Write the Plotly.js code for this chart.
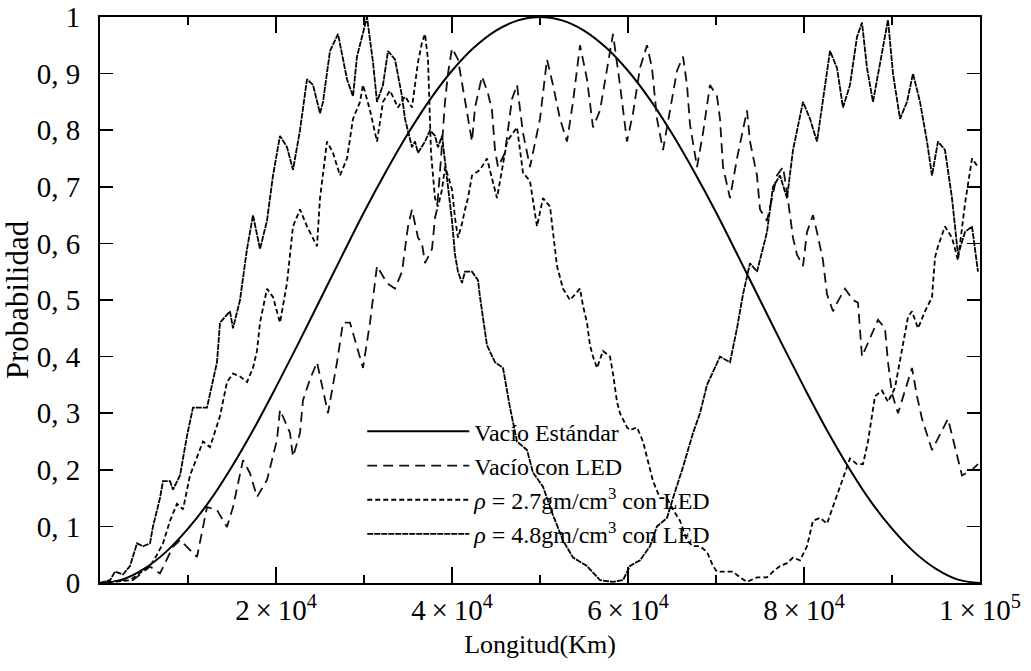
<!DOCTYPE html>
<html>
<head>
<meta charset="utf-8">
<script src="https://cdn.plot.ly/plotly-3.0.1.min.js"></script>
<style>html,body{margin:0;padding:0;background:#fff;}#chart{width:1031px;height:671px;}</style>
</head>
<body>
<div id="chart"></div>
<script>
// Longitud (km) and probabilities
const xStd = [0,2500,5000,7500,10000,12500,15000,17500,20000,22500,25000,27500,30000,32500,35000,37500,40000,42500,45000,47500,50000,52500,55000,57500,60000,62500,65000,67500,70000,72500,75000,77500,80000,82500,85000,87500,90000,92500,95000,97500,100000];
const yStd = [0,0.006,0.025,0.055,0.096,0.146,0.206,0.273,0.346,0.422,0.5,0.578,0.655,0.727,0.794,0.854,0.905,0.946,0.976,0.994,1,0.994,0.976,0.946,0.905,0.854,0.794,0.727,0.655,0.578,0.5,0.422,0.346,0.273,0.206,0.146,0.096,0.055,0.025,0.006,0];

const xLED = [0,2614,3750,5682,6818,8295,9091,9886,11023,12159,13295,14432,15114,16250,17045,17841,18977,20114,20455,21591,21932,22727,23068,23864,24659,25909,26932,27614,28409,29886,30682,31477,32614,33523,34318,35000,35455,36136,36591,36932,37273,37727,38068,38295,38750,39205,39545,40000,40682,41477,41818,42273,42614,43409,44091,44545,44886,45227,46023,46818,47386,48068,48864,50000,50795,51477,52273,53068,53750,54545,55341,56023,56818,57614,58295,59091,59886,60568,61364,62159,62727,63295,63977,64773,65568,66250,66705,67045,67386,67841,68523,69318,70114,70455,70795,71591,72386,73523,73864,74659,75000,75795,76932,77614,78068,78409,78750,79205,79886,80341,81023,81477,82159,82614,83295,83750,84659,85568,86136,86591,87273,88409,89205,89545,90000,90682,91477,92273,92841,93409,94545,95682,96364,97159,97955,99091,99773];
const yLED = [0,0.005,0.005,0.029,0.017,0.064,0.076,0.064,0.046,0.134,0.129,0.099,0.134,0.217,0.194,0.152,0.182,0.253,0.306,0.265,0.223,0.265,0.323,0.36,0.39,0.30,0.39,0.46,0.46,0.38,0.46,0.56,0.53,0.52,0.55,0.63,0.66,0.61,0.60,0.565,0.575,0.59,0.645,0.66,0.75,0.85,0.90,0.945,0.925,0.855,0.825,0.78,0.84,0.895,0.865,0.835,0.765,0.735,0.76,0.855,0.88,0.795,0.735,0.82,0.925,0.88,0.82,0.78,0.85,0.95,0.89,0.805,0.835,0.91,0.97,0.88,0.78,0.83,0.91,0.95,0.91,0.82,0.765,0.835,0.905,0.93,0.88,0.81,0.78,0.735,0.795,0.88,0.86,0.82,0.735,0.68,0.75,0.835,0.78,0.72,0.66,0.64,0.72,0.735,0.69,0.65,0.61,0.58,0.56,0.62,0.65,0.62,0.57,0.51,0.48,0.495,0.52,0.50,0.495,0.40,0.425,0.465,0.45,0.39,0.335,0.30,0.34,0.38,0.33,0.29,0.235,0.27,0.29,0.24,0.19,0.20,0.21];

const xRho27 = [0,3409,5682,6477,7159,7955,8750,9432,10227,11705,12500,13636,14432,15114,15909,16705,17386,17841,18182,18977,19659,20455,21250,21932,22727,23523,24659,25000,25795,26477,27273,28068,28750,29545,29886,30682,31477,32159,32955,33864,34659,35455,36136,36591,36932,37273,37614,38068,38409,38864,39205,39545,40000,40341,40682,41136,41477,41818,42273,43182,43977,45114,46250,47386,48068,48864,49659,50341,51136,51932,52614,53409,54545,54886,55341,55682,56023,56477,57159,57955,58295,58750,59091,59886,60227,61023,61705,62159,62841,63636,64432,65114,65909,66705,67386,68182,68977,69659,70114,71250,71932,72727,73523,74659,75795,76477,77273,78068,78750,79545,80341,81023,81818,82614,83295,84091,84432,85227,86023,86705,87273,88068,88864,89545,90341,91136,91818,92273,92955,93750,94545,94886,95227,96023,96818,97500,98295,99091,99773];
const yRho27 = [0,0.005,0.03,0.05,0.07,0.11,0.14,0.13,0.19,0.25,0.24,0.295,0.355,0.37,0.365,0.355,0.38,0.41,0.46,0.52,0.505,0.46,0.53,0.63,0.66,0.63,0.595,0.68,0.78,0.76,0.72,0.75,0.82,0.85,0.88,0.835,0.78,0.85,0.87,0.84,0.86,0.84,0.92,0.955,0.97,0.925,0.76,0.68,0.665,0.695,0.735,0.72,0.695,0.645,0.61,0.635,0.66,0.68,0.72,0.73,0.75,0.68,0.78,0.805,0.725,0.71,0.63,0.68,0.665,0.56,0.52,0.50,0.52,0.49,0.46,0.42,0.40,0.38,0.41,0.40,0.37,0.32,0.30,0.275,0.27,0.275,0.25,0.22,0.18,0.15,0.15,0.13,0.11,0.075,0.065,0.065,0.055,0.03,0.02,0.02,0.02,0.01,0.002,0.01,0.01,0.02,0.03,0.035,0.045,0.04,0.065,0.11,0.115,0.105,0.135,0.17,0.185,0.22,0.21,0.21,0.25,0.33,0.34,0.32,0.345,0.41,0.47,0.48,0.45,0.48,0.505,0.575,0.595,0.63,0.61,0.57,0.67,0.75,0.735];

const xRho48 = [0,1136,1705,2614,3409,4205,4886,5682,6023,6818,7159,7955,8295,9091,9886,10568,11364,12159,13295,13636,14773,15114,15909,16705,17386,18182,18977,19659,20455,21250,21932,22727,23523,24205,25000,25341,26136,27045,28068,28750,29205,30341,31023,31477,32159,32727,33523,33864,34318,34659,35000,35455,35795,36136,36932,37500,38068,38409,38864,39205,39545,40000,40341,40682,41136,41477,42273,42955,43182,43977,44886,45795,46591,47386,48523,49205,50341,51477,52614,53750,55341,56818,58295,59432,60227,61364,62500,63295,64432,65114,66250,67386,68182,68977,70455,71591,72386,73068,73864,74659,75795,76477,77273,78068,78750,79886,80682,81477,82159,82955,83750,84432,85227,86023,86591,87159,87841,88636,89545,90114,90909,91705,92386,93182,93977,94545,95227,96023,96818,97500,98295,99091,99773];
const yRho48 = [0,0.005,0.02,0.015,0.03,0.07,0.065,0.07,0.10,0.15,0.18,0.18,0.165,0.19,0.26,0.31,0.31,0.31,0.39,0.46,0.48,0.45,0.50,0.59,0.65,0.59,0.64,0.72,0.79,0.77,0.73,0.80,0.89,0.88,0.83,0.85,0.94,0.97,0.89,0.86,0.93,1.0,0.92,0.85,0.88,0.94,0.925,0.895,0.86,0.82,0.80,0.77,0.78,0.76,0.78,0.80,0.79,0.77,0.79,0.74,0.70,0.64,0.58,0.55,0.53,0.55,0.55,0.535,0.505,0.42,0.39,0.38,0.31,0.25,0.235,0.195,0.17,0.12,0.075,0.045,0.03,0.005,0.002,0.005,0.03,0.04,0.065,0.10,0.115,0.15,0.205,0.265,0.30,0.35,0.40,0.39,0.45,0.51,0.565,0.55,0.62,0.70,0.72,0.68,0.765,0.85,0.82,0.78,0.85,0.94,0.91,0.84,0.88,0.965,0.99,0.91,0.85,0.92,0.995,0.90,0.82,0.85,0.90,0.85,0.78,0.72,0.78,0.765,0.68,0.58,0.62,0.63,0.55];

const yTickVals = [0,0.1,0.2,0.3,0.4,0.5,0.6,0.7,0.8,0.9,1];
const yTickText = ['0','0, 1','0, 2','0, 3','0, 4','0, 5','0, 6','0, 7','0, 8','0, 9','1'];
const xTickVals = [20000,40000,60000,80000,100000];
const xTickText = ['2\u2009×\u200910<sup>4</sup>','4\u2009×\u200910<sup>4</sup>','6\u2009×\u200910<sup>4</sup>','8\u2009×\u200910<sup>4</sup>','1\u2009×\u200910<sup>5</sup>'];
const xMinorVals = [10000,30000,50000,70000,90000];

const names = ['Vacío Estándar','Vacío con LED','<i>ρ</i> = 2.7gm/cm<sup>3</sup> con LED','<i>ρ</i> = 4.8gm/cm<sup>3</sup> con LED'];

const FONT = '"Liberation Serif","DejaVu Serif",serif';

const traces = [
  {x:xStd, y:yStd, name:names[0], mode:'lines', line:{color:'#000', width:2, shape:'spline'}, legendgroup:'a'},
  {x:xLED, y:yLED, name:names[1], mode:'lines', line:{color:'#111', width:1.8, dash:'10px,6px'}, legendgroup:'b'},
  {x:xRho27, y:yRho27, name:names[2], mode:'lines', line:{color:'#000', width:1.8, dash:'5px,3px'}, legendgroup:'c'},
  {x:xRho48, y:yRho48, name:names[3], mode:'lines', line:{color:'#000', width:1.8, dash:'6px,1px'}, legendgroup:'d'}
];

const layout = {
  width:1031, height:671,
  margin:{l:100, r:51, t:17, b:88},
  paper_bgcolor:'#fff', plot_bgcolor:'#fff',
  font:{family:FONT, color:'#000'},
  showlegend:true,
  legend:{x:0.298, y:0.307, xanchor:'left', yanchor:'top', bgcolor:'rgba(0,0,0,0)', borderwidth:0,
          font:{family:FONT, size:24, color:'#000'}, itemwidth:102, tracegroupgap:0},
  xaxis:{range:[0,100000], showgrid:false, zeroline:false, showline:true, linecolor:'#000', linewidth:2,
         mirror:'ticks', ticks:'inside', ticklen:16, tickwidth:1.5, tickcolor:'#000',
         tickmode:'array', tickvals:xTickVals, ticktext:xTickText,
         tickfont:{family:FONT, size:29, color:'#000'},
         minor:{tickmode:'array', tickvals:xMinorVals, ticks:'inside', ticklen:8, tickwidth:1.5, tickcolor:'#000', showgrid:false},
         title:{text:'Longitud(Km)', font:{family:FONT, size:26, color:'#000'}, standoff:10}},
  yaxis:{range:[0,1], showgrid:false, zeroline:false, showline:true, linecolor:'#000', linewidth:2,
         mirror:'ticks', ticks:'inside', ticklen:13, tickwidth:1.5, tickcolor:'#000',
         tickmode:'array', tickvals:yTickVals, ticktext:yTickText,
         tickfont:{family:FONT, size:29, color:'#000'}, ticklabelstandoff:12,
         title:{text:'Probabilidad', font:{family:FONT, size:31, color:'#000'}, standoff:2}}
};

Plotly.newPlot('chart', traces, layout, {displayModeBar:false, staticPlot:true});
</script>
</body>
</html>
